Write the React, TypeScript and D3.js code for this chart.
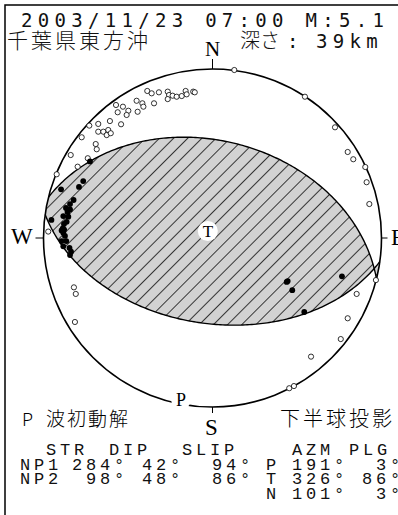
import React from 'react';
import * as d3 from 'd3';

// ---- data ----
const headerLine = '2003/11/23 07:00 M:5.1';
const regionName = '千葉県東方沖';
const depthLabel = '深さ';
const depthValue = '39km';
const planeNames = ['NP1', 'NP2'];
const strikes = [284, 98];
const dips = [42, 48];
const slips = [94, 86];
const axisNames = ['P', 'T', 'N'];
const axisAzimuths = [191, 326, 101];
const axisPlunges = [3, 86, 3];

// station polarities, (east, north) in units of the projection radius
const dilatations: [number, number][] = [
  [-0.386, 0.870], [-0.360, 0.856], [-0.317, 0.862], [-0.265, 0.866], [-0.257, 0.846],
  [-0.236, 0.842], [-0.212, 0.836], [-0.182, 0.840], [-0.159, 0.870], [-0.153, 0.850],
  [-0.114, 0.866], [-0.105, 0.862], [-0.265, 0.822], [-0.449, 0.812], [-0.415, 0.797],
  [-0.409, 0.777], [-0.346, 0.797], [-0.571, 0.787], [-0.530, 0.777], [-0.498, 0.753],
  [-0.561, 0.744], [-0.508, 0.728], [-0.443, 0.747], [-0.607, 0.692], [-0.676, 0.675],
  [-0.729, 0.665], [-0.541, 0.673], [-0.676, 0.629], [-0.646, 0.629], [-0.617, 0.639],
  [-0.626, 0.609], [-0.602, 0.620], [-0.774, 0.596], [-0.691, 0.556], [-0.685, 0.525],
  [-0.839, 0.491], [-0.738, 0.472], [-0.798, 0.422], [-0.922, 0.377], [0.129, 0.994],
  [0.547, 0.836], [0.725, 0.655], [0.800, 0.509], [0.833, 0.466], [0.904, 0.420],
  [0.912, 0.330], [0.928, 0.201], [0.967, -0.249], [0.853, -0.331], [0.800, -0.475],
  [0.759, -0.598], [0.583, -0.702], [0.454, -0.889], [0.482, -0.876], [-0.820, -0.292],
  [-0.809, -0.331], [-0.814, -0.497], [-0.972, 0.038],
];
const compressions: [number, number][] = [
  [-0.725, 0.453], [-0.896, 0.288], [-0.790, 0.302], [-0.765, 0.337], [-0.822, 0.225],
  [-0.843, 0.201], [-0.867, 0.178], [-0.843, 0.169], [-0.858, 0.154], [-0.953, 0.107],
  [-0.883, 0.130], [-0.853, 0.126], [-0.863, 0.096], [-0.879, 0.083], [-0.886, 0.057],
  [-0.878, 0.050], [-0.893, 0.045], [-0.883, 0.031], [-0.873, 0.012], [-0.893, -0.018],
  [-0.865, -0.018], [-0.883, -0.049], [-0.846, -0.059], [-0.837, -0.081], [-0.843, -0.101],
  [0.439, -0.260], [0.445, -0.255], [0.472, -0.309], [0.766, -0.227], [0.543, -0.438],
];

// ---- geometry helpers ----
const rad = Math.PI / 180;
function project(north: number, east: number, down: number): [number, number] {
  const dn = Math.max(-1, Math.min(1, Math.max(0, down)));
  const theta = Math.acos(dn);
  const r = Math.SQRT2 * Math.sin(theta / 2);
  const h = Math.hypot(north, east);
  if (h < 1e-12) return [0, 0];
  return [(r * east) / h, (r * north) / h];
}
function axisPoint(az: number, pl: number): [number, number] {
  const a = az * rad, p = pl * rad;
  return project(Math.cos(p) * Math.cos(a), Math.cos(p) * Math.sin(a), Math.sin(p));
}
function planeCurve(strike: number, dip: number, n = 180): [number, number][] {
  const s = strike * rad, d = dip * rad;
  const sv = [Math.cos(s), Math.sin(s), 0];
  const dv = [Math.cos(s + Math.PI / 2) * Math.cos(d), Math.sin(s + Math.PI / 2) * Math.cos(d), Math.sin(d)];
  const pts: [number, number][] = [];
  for (let i = 0; i <= n; i++) {
    const t = (Math.PI * i) / n;
    const v = [0, 1, 2].map((k) => Math.cos(t) * sv[k] + Math.sin(t) * dv[k]);
    pts.push(project(v[0], v[1], v[2]));
  }
  return pts;
}
function arc(a0: number, a1: number, n = 90): [number, number][] {
  const pts: [number, number][] = [];
  for (let i = 0; i <= n; i++) {
    const a = (a0 + ((a1 - a0) * i) / n) * rad;
    pts.push([Math.sin(a), Math.cos(a)]);
  }
  return pts;
}

export default function App() {
  const W = 398, H = 515;
  const cx = 212.5, cy = 238, R = 169;
  const x = d3.scaleLinear().domain([-1, 1]).range([cx - R, cx + R]);
  const y = d3.scaleLinear().domain([-1, 1]).range([cy + R, cy - R]);
  const line = d3.line<[number, number]>().x((d) => x(d[0])).y((d) => y(d[1]));

  const curves = strikes.map((s, i) => planeCurve(s, dips[i]));
  // side containing the centre (A) and the opposite side (B)
  const sideA = strikes.map((s, i) => line([...curves[i], ...arc(s + 180, s + 360)]) + 'Z');
  const sideB = strikes.map((s, i) => line([...curves[i], ...arc(s + 180, s)]) + 'Z');

  const pAxis = axisPoint(axisAzimuths[0], axisPlunges[0]);
  const tAxis = axisPoint(axisAzimuths[1], axisPlunges[1]);

  const mono = "'Liberation Mono', monospace";
  const sansMono = "'DejaVu Sans Mono', monospace";
  const serif = "'Liberation Serif', serif";
  const cjk = "'Noto Sans CJK JP', sans-serif";

  const rowY = [455, 469.5, 484, 498.5];
  const deg = (v: number) => `${v}°`;

  return (
    <svg width={W} height={H} style={{ position: 'absolute', left: 0, top: 0, background: '#fff' }}>
      <defs>
        <pattern id="hatch" patternUnits="userSpaceOnUse" width={10} height={10} patternTransform="rotate(45)">
          <rect width={10} height={10} fill="#d2d2d2" />
          <line x1={0} y1={0} x2={0} y2={10} stroke="#000" strokeWidth={1.5} />
        </pattern>
        <clipPath id="clipA"><path d={sideA[1]} /></clipPath>
        <clipPath id="clipB"><path d={sideB[1]} /></clipPath>
      </defs>
      <rect x={5} y={5} width={W + 20} height={H + 20} fill="none" stroke="#000" strokeWidth={1.5} />

      {/* header */}
      <text x={21} y={27} fontFamily={sansMono} fontSize={19} letterSpacing={5.3} fill="#111">{headerLine}</text>
      <text x={7} y={48} fontFamily={cjk} fontSize={21} letterSpacing={3} fontWeight={300} fill="#111">{regionName}</text>
      <text x={240} y={48} fontFamily={cjk} fontSize={20} fontWeight={300} fill="#111">{depthLabel}</text>
      <text x={287} y={48} fontFamily={sansMono} fontSize={19} fill="#111">:</text>
      <text x={316} y={48} fontFamily={sansMono} fontSize={19} letterSpacing={5.3} fill="#111">{depthValue}</text>

      {/* compressional quadrants */}
      <path d={sideA[0]} fill="url(#hatch)" clipPath="url(#clipA)" />
      <path d={sideB[0]} fill="url(#hatch)" clipPath="url(#clipB)" />
      {curves.map((c, i) => (
        <path key={i} d={line(c) || ''} fill="none" stroke="#000" strokeWidth={1.4} />
      ))}
      <circle cx={cx} cy={cy} r={R} fill="none" stroke="#000" strokeWidth={1.6} />

      {/* ticks and compass labels */}
      <line x1={x(0)} x2={x(0)} y1={y(1)} y2={y(1) - 10} stroke="#000" strokeWidth={1} />
      <line x1={x(0)} x2={x(0)} y1={y(-1)} y2={y(-1) + 6} stroke="#000" strokeWidth={1} />
      <line x1={x(-1)} x2={x(-1) - 8} y1={y(0)} y2={y(0)} stroke="#000" strokeWidth={1} />
      <line x1={x(1)} x2={x(1) + 6} y1={y(0)} y2={y(0)} stroke="#000" strokeWidth={1} />
      <text x={x(0)} y={56} textAnchor="middle" fontFamily={serif} fontSize={21}>N</text>
      <text x={x(0) - 1} y={435} textAnchor="middle" fontFamily={serif} fontSize={23}>S</text>
      <text x={11} y={244} fontFamily={serif} fontSize={23}>W</text>
      <text x={391} y={245} fontFamily={serif} fontSize={23}>E</text>

      {/* stations */}
      {dilatations.map((d, i) => (
        <circle key={'d' + i} cx={x(d[0])} cy={y(d[1])} r={2.6} fill="#fff" stroke="#000" strokeWidth={0.8} />
      ))}
      {compressions.map((d, i) => (
        <circle key={'c' + i} cx={x(d[0])} cy={y(d[1])} r={2.9} fill="#000" />
      ))}

      {/* P and T axes */}
      <circle cx={x(tAxis[0])} cy={y(tAxis[1])} r={10} fill="#fff" />
      <text x={x(tAxis[0])} y={y(tAxis[1]) + 6} textAnchor="middle" fontFamily={serif} fontSize={17}>T</text>
      <circle cx={x(pAxis[0])} cy={y(pAxis[1])} r={10} fill="#fff" />
      <text x={x(pAxis[0])} y={y(pAxis[1]) + 6.5} textAnchor="middle" fontFamily={serif} fontSize={18}>P</text>

      {/* bottom captions */}
      <text x={22} y={426} fontFamily={cjk} fontSize={18} fontWeight={300}>P</text>
      <text x={46} y={426} fontFamily={cjk} fontSize={19} letterSpacing={2} fontWeight={300}>波初動解</text>
      <text x={280} y={426} fontFamily={cjk} fontSize={20} letterSpacing={3} fontWeight={300}>下半球投影</text>

      <g fontFamily={mono} fontSize={17} letterSpacing={3.8} fill="#111">
        <text x={46} y={rowY[0]}>STR</text>
        <text x={109} y={rowY[0]}>DIP</text>
        <text x={182} y={rowY[0]}>SLIP</text>
        <text x={292} y={rowY[0]}>AZM</text>
        <text x={349} y={rowY[0]}>PLG</text>
        {planeNames.map((nm, i) => (
          <g key={nm}>
            <text x={20} y={rowY[i + 1]}>{nm}</text>
            <text x={strikes[i] >= 100 ? 72 : 86} y={rowY[i + 1]}>{deg(strikes[i])}</text>
            <text x={142} y={rowY[i + 1]}>{deg(dips[i])}</text>
            <text x={212} y={rowY[i + 1]}>{deg(slips[i])}</text>
          </g>
        ))}
        {axisNames.map((nm, i) => (
          <g key={nm}>
            <text x={266} y={rowY[i + 1]}>{nm}</text>
            <text x={292} y={rowY[i + 1]}>{deg(axisAzimuths[i])}</text>
            <text x={axisPlunges[i] >= 10 ? 362 : 376} y={rowY[i + 1]}>{deg(axisPlunges[i])}</text>
          </g>
        ))}
      </g>
    </svg>
  );
}
